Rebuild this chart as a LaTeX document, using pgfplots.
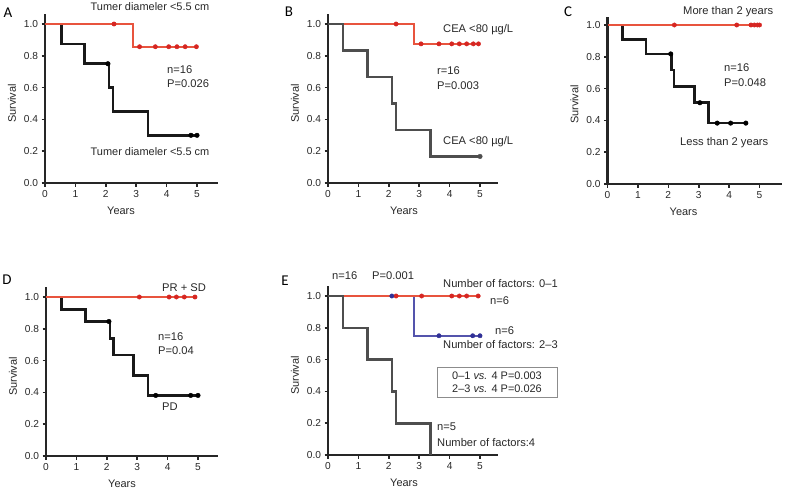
\documentclass[border=0pt]{standalone}
\usepackage{fontspec}
\setmainfont{Liberation Sans}
\newfontfamily\letterfont{Carlito}
\usepackage{pgfplots}
\pgfplotsset{compat=1.18}

\definecolor{kmred}{RGB}{232,84,62}
\definecolor{dotred}{RGB}{214,38,34}
\definecolor{kmblue}{RGB}{84,84,172}
\definecolor{dotblue}{RGB}{48,48,150}
\definecolor{kmgray}{RGB}{78,78,78}
\definecolor{txt}{RGB}{40,40,40}

\pgfplotsset{
  km/.style={
    x=30.4bp, y=159bp,
    xmin=0, ymin=0, ymax=1.06,
    anchor=south west,
    axis lines=left,
    axis line style={-, line width=2.5pt, black!85},
    clip=false,
    xtick={0,1,2,3,4,5},
    ytick={0,0.2,0.4,0.6,0.8,1},
    tick align=outside,
    major tick length=3.5bp,
    tick style={black!85, line width=1.6pt},
    yticklabel style={/pgf/number format/.cd, fixed, fixed zerofill, precision=1},
    /pgf/number format/assume math mode=true,
    ticklabel style={font=\fontsize{10.2}{12}\selectfont, text=txt},
  },
  redline/.style={const plot, kmred, line width=1.9pt, mark=none},
  blueline/.style={const plot, kmblue, line width=1.9pt, mark=none},
  blackline/.style={const plot, black!90, line width=2.6pt, mark=none},
  grayline/.style={const plot, kmgray, line width=2.6pt, mark=none},
  redmarks/.style={only marks, mark=*, mark size=2.2pt, mark options={fill=dotred, draw=dotred}},
  bluemarks/.style={only marks, mark=*, mark size=2.2pt, mark options={fill=dotblue, draw=dotblue}},
  blackmarks/.style={only marks, mark=*, mark size=2.3pt, mark options={fill=black, draw=black}},
  graymarks/.style={only marks, mark=*, mark size=2.3pt, mark options={fill=kmgray, draw=kmgray}},
}

\begin{document}
\begin{tikzpicture}
\useasboundingbox (0,0) rectangle (789bp,-489bp);
\tikzset{ann/.style={anchor=west, inner sep=0pt, text=txt, font=\fontsize{11.2}{13}\selectfont},
         lab/.style={text=txt, font=\fontsize{11}{13}\selectfont},
         panel/.style={inner sep=0pt, text=black, font=\letterfont\fontsize{15}{16}\selectfont}}

% ---------- A
\begin{axis}[km, at={(45bp,-183bp)}, xmax=5.7]
\addplot[blackline] coordinates {(0,1) (0.54,0.875) (1.3,0.75) (2.1,0.6) (2.24,0.45) (3.39,0.3) (5,0.3)};
\addplot[blackmarks] coordinates {(2.07,0.75) (4.8,0.3) (5.0,0.3)};
\addplot[redline] coordinates {(0,1) (2.89,0.857) (5,0.857)};
\addplot[redmarks] coordinates {(2.27,1) (3.11,0.857) (3.63,0.857) (4.07,0.857) (4.34,0.857) (4.61,0.857) (4.98,0.857)};
\node[lab, rotate=90] at (axis cs:-1.09,0.5) {Survival};
\node[lab] at (axis cs:2.5,-0.176) {Years};
\end{axis}

% ---------- B
\begin{axis}[km, at={(328bp,-183bp)}, xmax=5.6]
\addplot[redline] coordinates {(0,1) (2.84,0.875) (5,0.875)};
\addplot[redmarks] coordinates {(2.24,1) (3.06,0.875) (3.65,0.875) (4.07,0.875) (4.32,0.875) (4.56,0.875) (4.78,0.875) (4.95,0.875)};
\addplot[grayline] coordinates {(0,1) (0.5,0.833) (1.29,0.667) (2.1,0.5) (2.23,0.333) (3.38,0.167) (5,0.167)};
\addplot[graymarks] coordinates {(5,0.167)};
\node[lab, rotate=90] at (axis cs:-1.09,0.5) {Survival};
\node[lab] at (axis cs:2.5,-0.176) {Years};
\end{axis}

% ---------- C
\begin{axis}[km, at={(607.5bp,-184bp)}, xmax=5.75, ymax=1.05]
\addplot[blackline] coordinates {(0,1) (0.5,0.909) (1.26,0.818) (2.1,0.716) (2.19,0.614) (2.86,0.511) (3.33,0.383) (4.55,0.383)};
\addplot[blackmarks] coordinates {(2.08,0.818) (3.04,0.511) (3.61,0.383) (4.05,0.383) (4.55,0.383)};
\addplot[redline] coordinates {(0,1) (5.02,1)};
\addplot[redmarks] coordinates {(2.2,1) (4.25,1) (4.72,1) (4.83,1) (4.93,1) (5.0,1)};
\node[lab, rotate=90] at (axis cs:-1.09,0.5) {Survival};
\node[lab] at (axis cs:2.5,-0.176) {Years};
\end{axis}

% ---------- D
\begin{axis}[km, at={(46bp,-456bp)}, xmax=5.65]
\addplot[blackline] coordinates {(0,1) (0.51,0.923) (1.3,0.846) (2.1,0.74) (2.22,0.635) (2.87,0.508) (3.36,0.381) (5,0.381)};
\addplot[blackmarks] coordinates {(2.07,0.846) (3.61,0.381) (4.76,0.381) (5.0,0.381)};
\addplot[redline] coordinates {(0,1) (4.95,1)};
\addplot[redmarks] coordinates {(3.07,1) (4.05,1) (4.29,1) (4.55,1) (4.9,1)};
\node[lab, rotate=90] at (axis cs:-1.09,0.5) {Survival};
\node[lab] at (axis cs:2.5,-0.176) {Years};
\end{axis}

% ---------- E
\begin{axis}[km, at={(328bp,-455bp)}, xmax=5.58]
\addplot[blueline] coordinates {(0,1) (2.84,0.75) (5,0.75)};
\addplot[bluemarks] coordinates {(3.65,0.75) (4.76,0.75) (5.0,0.75)};
\addplot[redline] coordinates {(0,1) (4.95,1)};
\addplot[redmarks] coordinates {(2.24,1) (3.08,1) (4.07,1) (4.32,1) (4.56,1) (4.94,1)};
\addplot[bluemarks] coordinates {(2.1,1)};
\addplot[grayline] coordinates {(0,1) (0.5,0.8) (1.29,0.6) (2.1,0.4) (2.23,0.2) (3.38,0)};
\node[lab, rotate=90] at (axis cs:-1.09,0.5) {Survival};
\node[lab] at (axis cs:2.5,-0.176) {Years};
\end{axis}

% ---------- panel letters
\node[panel] at (8bp,-13bp) {A};
\node[panel] at (289bp,-12bp) {B};
\node[panel] at (568bp,-12bp) {C};
\node[panel] at (7bp,-280bp) {D};
\node[panel] at (285bp,-281bp) {E};

% ---------- annotations A
\node[lab] at (150bp,-7bp) {Tumer diameler <5.5 cm};
\node[lab] at (150bp,-152bp) {Tumer diameler <5.5 cm};
\node[ann] at (167bp,-70bp) {n=16};
\node[ann] at (167bp,-84bp) {P=0.026};

% ---------- annotations B
\node[ann] at (443bp,-30bp) {CEA <80 µg/L};
\node[ann] at (443bp,-142bp) {CEA <80 µg/L};
\node[ann] at (437bp,-71bp) {r=16};
\node[ann] at (437bp,-86bp) {P=0.003};

% ---------- annotations C
\node[ann] at (683bp,-12bp) {More than 2 years};
\node[ann] at (724bp,-68bp) {n=16};
\node[ann] at (724bp,-83bp) {P=0.048};
\node[ann] at (680bp,-143bp) {Less than 2 years};

% ---------- annotations D
\node[ann] at (162bp,-288bp) {PR + SD};
\node[ann] at (158bp,-337bp) {n=16};
\node[ann] at (158bp,-351bp) {P=0.04};
\node[ann] at (162bp,-407bp) {PD};

% ---------- annotations E
\node[ann] at (332bp,-276bp) {n=16};
\node[ann] at (372bp,-276bp) {P=0.001};
\node[ann] at (443bp,-284bp) {Number of factors: 0–1};
\node[ann] at (490bp,-301bp) {n=6};
\node[ann] at (495bp,-331bp) {n=6};
\node[ann] at (443bp,-345bp) {Number of factors: 2–3};
\draw[black!45, line width=0.9pt] (437bp,-367bp) rectangle (557bp,-397bp);
\node[lab] at (497bp,-376bp) {0–1 \textit{vs.} 4 P=0.003};
\node[lab] at (497bp,-389bp) {2–3 \textit{vs.} 4 P=0.026};
\node[ann] at (437bp,-427bp) {n=5};
\node[ann] at (437bp,-443bp) {Number of factors:4};
\end{tikzpicture}
\end{document}
